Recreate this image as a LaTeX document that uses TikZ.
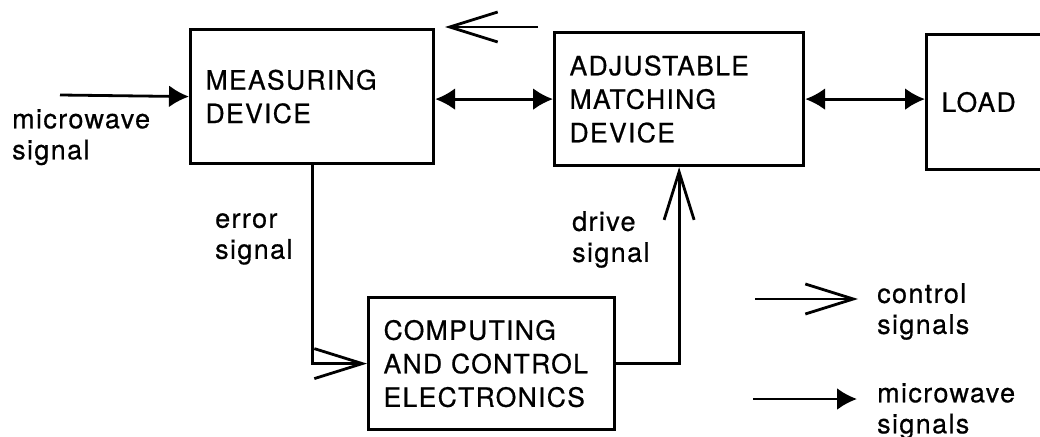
\documentclass[tikz,border=0pt]{standalone}
\usepackage{fontspec}
\setmainfont{TeX Gyre Heros}[LetterSpace=5,FakeBold=0.6]
\usetikzlibrary{arrows.meta}
\begin{document}
\begin{tikzpicture}[x=1pt,y=-1pt,
  box/.style={draw, line width=3.2pt, rectangle, inner xsep=15pt, inner ysep=0pt,
              align=left, anchor=north west, font=\fontsize{26.5}{33.5}\selectfont},
  lbl/.style={align=left, anchor=north west, inner sep=0pt, font=\fontsize{27}{31}\selectfont},
  mw/.style={line width=2.8pt, -{Latex[length=20pt,width=22pt]}},
  mwboth/.style={line width=2.8pt, {Latex[length=20pt,width=22pt]}-{Latex[length=20pt,width=22pt]}},
  ctrl/.style={line width=2.8pt, -{Straight Barb[length=48pt,width=30pt]}},
]
\useasboundingbox (0,0) rectangle (1040,436);
\clip (0,0) rectangle (1040,436);

% blocks
\node[box, minimum width=243pt, minimum height=134pt, text width=213pt] (meas) at (189,28) {MEASURING\\DEVICE};
\node[box, minimum width=249pt, minimum height=133pt, text width=219pt] (adj) at (553,31) {ADJUSTABLE\\MATCHING\\DEVICE};
\node[box, minimum width=150pt, minimum height=135pt, text width=120pt] (load) at (925,33) {LOAD};
\node[box, minimum width=246pt, minimum height=132pt, text width=216pt] (comp) at (367,296) {COMPUTING\\AND CONTROL\\ELECTRONICS};

% microwave paths
\coordinate (src) at (60,95);
\draw[mw] (src) -- (meas.west);
\draw[mwboth] (meas.east |- adj.west) -- (adj.west);
\draw[mwboth] (adj.east) -- (load.west |- adj.east);

% control paths
\coordinate (cstart) at (538,27);
\coordinate (cend) at (445,27);
\draw[ctrl] (cstart) -- (cend);
\draw[ctrl] (meas.south) |- (comp.west);
\draw[ctrl] (comp.east) -| (adj.south);

% labels
\node[lbl] (lin) at (12,109) {microwave\\signal};
\node[lbl] (lerr) at (215,213) {error\\signal};
\node[lbl] (ldrv) at (572,211) {drive\\signal};

% key
\coordinate (k1a) at (755,299);
\coordinate (k1b) at (858,299);
\draw[ctrl] (k1a) -- (k1b);
\node[lbl] (k1t) at (877,283) {control\\signals};
\coordinate (k2a) at (753,399);
\coordinate (k2b) at (857,399);
\draw[mw] (k2a) -- (k2b);
\node[lbl] (k2t) at (877,383) {microwave\\signals};
\end{tikzpicture}
\end{document}
